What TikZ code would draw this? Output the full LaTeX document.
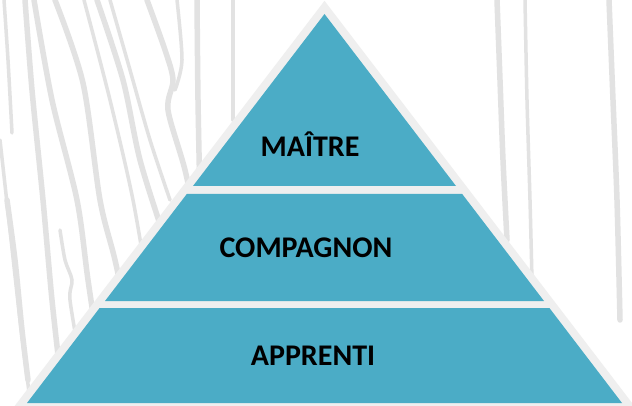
\documentclass[tikz,border=0pt]{standalone}
\usepackage{fontspec}
\setmainfont{Carlito}
\definecolor{teal5}{HTML}{4BACC6}
\definecolor{rimgray}{HTML}{EFEFEF}
\definecolor{grain}{HTML}{E2E2E2}
\begin{document}
\begin{tikzpicture}[x=1pt,y=-1pt,
  grainline/.style={draw=grain,line width=5.5pt,line cap=round},
  thingrain/.style={draw=grain,line width=3.5pt,line cap=round},
  band/.style={fill=teal5},
  tier/.style={font=\fontsize{30}{32}\selectfont\bfseries,text=black,inner sep=0pt,anchor=base}]
\fill[white] (0,0) rectangle (632,406);
\useasboundingbox (0,0) rectangle (632,406);
% wood grain, left
\draw[thingrain] plot[smooth] coordinates {(4,0) (8,60) (12,133)};
\draw[grainline] plot[smooth] coordinates {(25,0) (32,90) (43,200) (52,300) (62,390)};
\draw[grainline] plot[smooth] coordinates {(34,0) (52,100) (77,200) (88,280) (100,360)};
\draw[grainline] plot[smooth] coordinates {(55,0) (83,83) (100,200) (115,260) (130,330)};
\draw[thingrain] plot[smooth] coordinates {(84,0) (110,100) (133,200) (150,300)};
\draw[grainline] plot[smooth] coordinates {(97,0) (123,80) (140,160) (165,240) (180,290)};
\draw[thingrain] plot[smooth] coordinates {(110,0) (130,70) (150,140) (170,200)};
\draw[grainline] plot[smooth] coordinates {(147,0) (165,50) (173,80) (168,110) (185,170) (200,240)};
\draw[thingrain] plot[smooth] coordinates {(177,0) (182,60) (175,90)};
\draw[grainline] plot[smooth] coordinates {(197,0) (198,100) (200,200)};
\draw[thingrain] plot[smooth] coordinates {(233,0) (233,60) (233,120)};
\draw[thingrain] plot[smooth] coordinates {(0,140) (10,230) (20,320) (30,400)};
\draw[grainline] plot[smooth] coordinates {(7,200) (15,260) (22,330) (28,380)};
\draw[thingrain] plot[smooth] coordinates {(60,230) (65,260) (72,280) (70,300) (80,360)};
% wood grain, right
\draw[grainline] plot[smooth] coordinates {(497,0) (500,80) (503,160) (507,240)};
\draw[thingrain] plot[smooth] coordinates {(525,0) (527,100) (530,200) (532,280)};
\draw[grainline] plot[smooth] coordinates {(609,0) (613,100) (617,200) (620,320)};
% rim
\filldraw[draw=rimgray,fill=rimgray,line width=16pt,line join=miter]
  (324.5,14) -- (27,403) -- (622,403) -- cycle;
% tiers
\fill[band] (324.5,14) -- (456,186) -- (193,186) -- cycle;
\fill[band] (186.8,194) -- (462.2,194) -- (544,301) -- (105,301) -- cycle;
\fill[band] (99.6,308) -- (549.4,308) -- (622,403) -- (27,403) -- cycle;
\node[tier] (maitre) at (310,157) {MAÎTRE};
\node[tier] (compagnon) at (306,257.5) {COMPAGNON};
\node[tier] (apprenti) at (313,365) {APPRENTI};
\end{tikzpicture}
\end{document}
